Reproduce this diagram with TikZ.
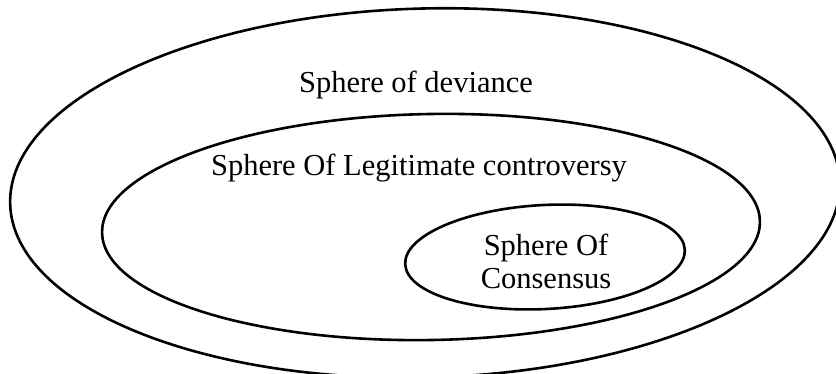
\documentclass[tikz,border=0pt]{standalone}
\usepackage{fontspec}
\setmainfont{Liberation Serif}
\usetikzlibrary{shapes.geometric}

\begin{document}
\begin{tikzpicture}[x=1pt, y=1pt,
    sphere/.style={draw, ellipse, line width=2.6pt, inner sep=0pt},
    lbl/.style={font=\fontsize{30.5}{33}\selectfont, inner sep=0pt}]
            \clip (0,0) rectangle (836,373);
            \node[sphere, minimum width=830, minimum height=369, rotate=1.5] (deviance) at (425,180) {};
            \node[sphere, minimum width=658, minimum height=226, rotate=1] (controversy) at (431,146) {};
            \node[sphere, minimum width=280, minimum height=104, rotate=3] (consensus) at (545,116) {};
            \node[lbl, anchor=base] (devtext) at (416,280) {Sphere of deviance};
            \node[lbl, anchor=base] (context) at (419,198) {Sphere Of Legitimate controversy};
            \node[lbl, align=center] (constext) at (546,112) {Sphere Of\\Consensus};
        \end{tikzpicture}
\end{document}
